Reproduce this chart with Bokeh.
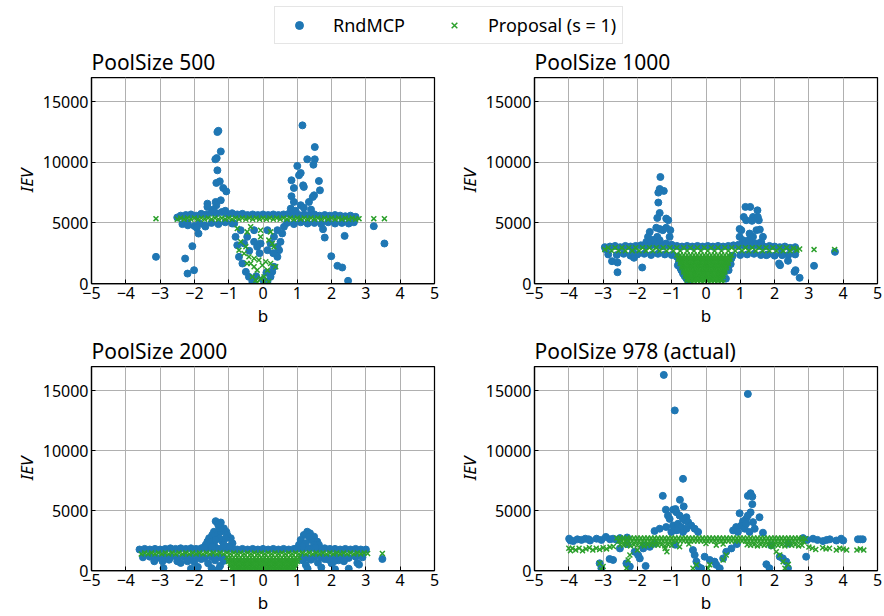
from bokeh.plotting import figure
from bokeh.layouts import column, row
from bokeh.models import Range1d, FixedTicker, Legend, LegendItem
from bokeh.core.properties import value
from bokeh.embed import file_html
from bokeh.resources import INLINE

FONT = "Noto Sans"
BLUE = "#1f77b4"
GREEN = "#2ca02c"

X_TICKS = [-5, -4, -3, -2, -1, 0, 1, 2, 3, 4, 5]
X_TICK_LABELS = ["\u22125", "\u22124", "\u22123", "\u22122", "\u22121", "0", "1", "2", "3", "4", "5"]
Y_TICKS = [0, 5000, 10000, 15000]
Y_TICK_LABELS = ["0", "5000", "10000", "15000"]
TITLES = ["PoolSize 500", "PoolSize 1000", "PoolSize 2000", "PoolSize 978 (actual)"]
SERIES = ["RndMCP", "Proposal (s = 1)"]

# ---------------- PoolSize 500 ----------------
P500_RND_BAND = [(-2.5,5450),(-2.4,5600),(-2.25,5650),(-2.1,5700),(-1.95,5600),(-1.8,5750),(-1.65,5700),(-1.5,5850),(-1.35,5800),(-1.2,5900),
    (-1.05,5750),(-0.9,5800),(-0.75,5700),(-0.6,5750),(-0.45,5650),(-0.3,5700),(-0.15,5650),(0.0,5700),(0.15,5650),(0.3,5700),
    (0.45,5650),(0.6,5700),(0.75,5750),(0.9,5700),(1.05,5650),(1.2,5700),(1.35,5650),(1.5,5700),(1.65,5600),(1.8,5650),
    (1.95,5600),(2.1,5650),(2.25,5600),(2.4,5550),(2.55,5600),(2.7,5500),
    (-2.35,4900),(-2.2,5000),(-2.0,4750),(-1.85,4950),(-1.7,4800),(-1.5,5000),(-1.3,4900),(-1.1,5050),(-0.9,4950),(0.7,5000),
    (0.9,4900),(1.1,5050),(1.3,4950),(1.5,5000),(1.7,4900),(1.9,5050),(2.1,4950),(2.3,5000),(2.5,4950),(2.65,5050)]
P500_RND_PEAKS = [(-1.62,6590),(-1.62,6320),(-1.33,12500),(-1.30,12600),(-1.23,10900),(-1.35,10350),(-1.39,10250),(-1.33,9340),
    (-1.36,8300),(-1.26,8430),(-1.16,7880),(-1.07,7600),(-1.38,6730),(-1.23,6870),(-1.36,6460),(-1.45,6100),(-1.10,6000),
    (1.15,13050),(1.51,11260),(1.29,10250),(1.51,10250),(1.47,9800),(1.00,9700),(1.05,8930),(1.10,9120),(0.83,8520),
    (0.90,7880),(1.17,8100),(1.19,7970),(1.63,8460),(1.66,7690),(1.49,7280),(1.45,7140),(0.83,7200),(0.90,6730),
    (1.34,6730),(1.10,6460),(1.19,6260),(0.81,6180),(0.95,6000),(1.40,6100)]
P500_RND_TAILS = [(-3.12,2200),(-2.27,2060),(-2.20,820),(-2.06,3080),(-2.01,1100),(-2.19,4800),(-1.88,4120),(-1.68,4700),
    (-1.93,4600),(1.75,4480),(1.80,3790),(2.38,3930),(1.99,2250),(2.17,1460),(2.31,1320),(2.48,220),(3.23,4730),(3.54,3300)]
P500_RND_DIP = [(-0.84,4950),(-0.80,3850),(-0.75,3160),(-0.70,2200),(-0.60,1650),(-0.50,960),(-0.41,550),(-0.31,140),
    (0.51,3440),(0.56,4130),(0.47,2750),(0.42,2200),(0.32,1380),(0.27,960),(0.22,550),(0.13,140),(-0.65,4400),(-0.26,4400),
    (0.13,4400),(0.42,4400),(-0.46,3850),(-0.07,3300),(0.32,3850),(0.61,4680),(-0.55,3300),(0.13,2750),(-0.17,3030),
    (-0.26,3440),(0.22,3300),(0.42,3030),(-0.10,2500),(-0.40,2700),(0.30,2500),(-0.20,600),(0.00,300),(0.10,900)]
P500_PROP_BAND = [(-2.5,5300),(-2.4,5400),(-2.3,5300),(-2.2,5400),(-2.1,5300),(-2.0,5400),(-1.9,5300),(-1.8,5400),(-1.7,5300),(-1.6,5400),
    (-1.5,5300),(-1.4,5400),(-1.3,5300),(-1.2,5400),(-1.1,5300),(-1.0,5400),(-0.9,5300),(-0.8,5400),(-0.7,5300),(-0.6,5400),
    (-0.5,5300),(-0.4,5400),(-0.3,5300),(-0.2,5400),(-0.1,5300),(0.0,5400),(0.1,5300),(0.2,5400),(0.3,5300),(0.4,5400),
    (0.5,5300),(0.6,5400),(0.7,5300),(0.8,5400),(0.9,5300),(1.0,5400),(1.1,5300),(1.2,5400),(1.3,5300),(1.4,5400),
    (1.5,5300),(1.6,5400),(1.7,5300),(1.8,5400),(1.9,5300),(2.0,5400),(2.1,5300),(2.2,5400),(2.3,5300),(2.4,5400),
    (2.5,5300),(2.6,5400),(2.7,5300),(2.8,5350),(-3.12,5350),(3.23,5350),(3.54,5350)]
P500_PROP_DIP = [(-0.75,4540),(-0.46,4260),(-0.07,4400),(0.22,4260),(-0.70,2750),(-0.55,2480),(-0.46,1650),(-0.36,1650),
    (-0.26,1380),(-0.17,1100),(-0.31,550),(-0.21,280),(-0.07,410),(0.03,550),(0.13,1100),(0.22,1650),(0.27,3300),
    (0.17,3580),(-0.65,3440),(-0.50,3030),(-0.41,2200),(-0.26,2060),(-0.12,1930),(-0.02,1510),(0.08,1790),(0.03,140),
    (-0.17,60),(0.17,140),(-0.07,3850),(-0.36,4680),(0.32,3030),(0.37,1380)]

# ---------------- PoolSize 1000 ----------------
P1000_RND_BAND = [(-2.95,3000),(-2.8,3050),(-2.65,3100),(-2.5,3000),(-2.35,3100),(-2.2,3050),(-2.05,3100),(-1.9,3150),(-1.75,3100),(-1.6,3150),
    (-1.45,3150),(-1.3,3100),(-1.15,3150),(-1.0,3100),(-0.85,3100),(-0.7,3050),(-0.55,3100),(-0.4,3050),(-0.25,3100),(-0.1,3050),
    (0.05,3100),(0.2,3050),(0.35,3100),(0.5,3050),(0.65,3100),(0.8,3150),(0.95,3100),(1.1,3150),(1.25,3100),(1.4,3150),
    (1.55,3100),(1.7,3050),(1.85,3100),(2.0,3050),(2.15,3000),(2.3,3050),(2.45,2950),(2.6,3000),
    (-2.85,2400),(-2.6,2350),(-2.4,2450),(-2.2,2300),(-2.0,2400),(-1.8,2450),(-1.6,2350),(-1.4,2450),(-1.2,2400),(-1.0,2350),
    (1.0,2350),(1.2,2400),(1.4,2450),(1.6,2350),(1.8,2400),(2.0,2300),(2.2,2450),(2.4,2350),(2.6,2400)]
P1000_RND_PEAKS = [(-1.33,8790),(-1.35,7800),(-1.23,7640),(-1.39,7500),(-1.39,6680),(-1.35,5820),(-1.42,5410),(-1.16,5360),
    (-1.10,5220),(-1.45,4600),(-1.35,4500),(-1.26,4400),(-1.16,4600),(-1.04,4400),(-1.64,4260),(-1.69,3850),(-1.74,3430),
    (-1.79,3160),(-1.42,3850),(-1.35,3570),(-1.06,3850),(-1.16,3300),(-1.45,3300),(-1.55,3600),(-1.25,3100),(-1.00,3200),
    (1.15,6320),(1.29,6320),(1.50,6040),(1.10,5490),(1.37,5490),(1.51,5490),(1.17,5220),(1.34,5170),(1.54,5220),
    (0.98,4500),(1.03,4400),(1.47,4400),(1.57,4450),(1.27,4120),(1.37,3850),(1.66,3850),(1.61,3430),(0.98,3850),
    (1.08,3570),(1.17,3430),(1.37,3300),(1.49,3300),(1.25,3600),(0.95,3200),(1.60,3200)]
P1000_RND_TAILS = [(-2.92,2830),(-2.74,1840),(-2.58,1730),(-2.58,930),(-2.10,2120),(-1.86,1320),(-2.13,2600),
    (1.76,2340),(2.13,1650),(2.16,1510),(2.39,1870),(2.22,2340),(2.58,960),(2.61,1100),(2.73,470),(3.15,1460),(3.76,2610),
    (-0.79,1790),(-0.72,1100),(-0.67,820),(-0.57,410),(-0.48,140),(0.45,550),(0.54,960),(0.64,1370),(0.69,1790),
    (0.74,2060),(-0.85,2200),(0.78,2300),(-0.82,1500),(-0.75,1300),(-0.62,600),(0.58,400),(0.66,1100),(0.72,1600)]
P1000_PROP_BAND = [(-2.95,2800),(-2.85,2950),(-2.75,2700),(-2.65,2950),(-2.55,2700),(-2.45,2950),(-2.35,2700),(-2.25,2950),(-2.15,2700),(-2.05,2950),
    (-1.95,2700),(-1.85,2950),(-1.75,2700),(-1.65,2950),(-1.55,2700),(-1.45,2950),(-1.35,2700),(-1.25,2950),(-1.15,2700),(-1.05,2950),
    (-0.95,2700),(-0.85,2950),(-0.75,2700),(-0.65,2950),(-0.55,2700),(-0.45,2950),(-0.35,2700),(-0.25,2950),(-0.15,2700),(-0.05,2950),
    (0.05,2700),(0.15,2950),(0.25,2700),(0.35,2950),(0.45,2700),(0.55,2950),(0.65,2700),(0.75,2950),(0.85,2700),(0.95,2950),
    (1.05,2700),(1.15,2950),(1.25,2700),(1.35,2950),(1.45,2700),(1.55,2950),(1.65,2700),(1.75,2950),(1.85,2700),(1.95,2950),
    (2.05,2700),(2.15,2950),(2.25,2700),(2.35,2950),(2.45,2700),(2.55,2900),(2.65,2750),(2.73,2850),(3.15,2800),(3.75,2800)]
P1000_PROP_DIP = [
    (-0.85,2350),(-0.75,2350),(-0.65,2350),(-0.55,2350),(-0.45,2350),(-0.35,2350),(-0.25,2350),(-0.15,2350),(-0.05,2350),
    (0.05,2350),(0.15,2350),(0.25,2350),(0.35,2350),(0.45,2350),(0.55,2350),(0.65,2350),(0.75,2350),
    (-0.8,2150),(-0.7,2150),(-0.6,2150),(-0.5,2150),(-0.4,2150),(-0.3,2150),(-0.2,2150),(-0.1,2150),(0.0,2150),
    (0.1,2150),(0.2,2150),(0.3,2150),(0.4,2150),(0.5,2150),(0.6,2150),(0.7,2150),
    (-0.8,2000),(-0.7,2000),(-0.6,2000),(-0.5,2000),(-0.4,2000),(-0.3,2000),(-0.2,2000),(-0.1,2000),(0.0,2000),
    (0.1,2000),(0.2,2000),(0.3,2000),(0.4,2000),(0.5,2000),(0.6,2000),(0.7,2000),
    (-0.75,1800),(-0.65,1800),(-0.55,1800),(-0.45,1800),(-0.35,1800),(-0.25,1800),(-0.15,1800),(-0.05,1800),
    (0.05,1800),(0.15,1800),(0.25,1800),(0.35,1800),(0.45,1800),(0.55,1800),(0.65,1800),
    (-0.75,1650),(-0.65,1650),(-0.55,1650),(-0.45,1650),(-0.35,1650),(-0.25,1650),(-0.15,1650),(-0.05,1650),
    (0.05,1650),(0.15,1650),(0.25,1650),(0.35,1650),(0.45,1650),(0.55,1650),(0.65,1650),
    (-0.7,1450),(-0.6,1450),(-0.5,1450),(-0.4,1450),(-0.3,1450),(-0.2,1450),(-0.1,1450),(0.0,1450),
    (0.1,1450),(0.2,1450),(0.3,1450),(0.4,1450),(0.5,1450),(0.6,1450),
    (-0.7,1300),(-0.6,1300),(-0.5,1300),(-0.4,1300),(-0.3,1300),(-0.2,1300),(-0.1,1300),(0.0,1300),
    (0.1,1300),(0.2,1300),(0.3,1300),(0.4,1300),(0.5,1300),(0.6,1300),
    (-0.65,1100),(-0.55,1100),(-0.45,1100),(-0.35,1100),(-0.25,1100),(-0.15,1100),(-0.05,1100),
    (0.05,1100),(0.15,1100),(0.25,1100),(0.35,1100),(0.45,1100),(0.55,1100),
    (-0.65,950),(-0.55,950),(-0.45,950),(-0.35,950),(-0.25,950),(-0.15,950),(-0.05,950),
    (0.05,950),(0.15,950),(0.25,950),(0.35,950),(0.45,950),(0.55,950),
    (-0.6,750),(-0.5,750),(-0.4,750),(-0.3,750),(-0.2,750),(-0.1,750),(0.0,750),(0.1,750),(0.2,750),(0.3,750),(0.4,750),(0.5,750),
    (-0.6,600),(-0.5,600),(-0.4,600),(-0.3,600),(-0.2,600),(-0.1,600),(0.0,600),(0.1,600),(0.2,600),(0.3,600),(0.4,600),(0.5,600),
    (-0.55,400),(-0.45,400),(-0.35,400),(-0.25,400),(-0.15,400),(-0.05,400),(0.05,400),(0.15,400),(0.25,400),(0.35,400),(0.45,400),
    (-0.55,250),(-0.45,250),(-0.35,250),(-0.25,250),(-0.15,250),(-0.05,250),(0.05,250),(0.15,250),(0.25,250),(0.35,250),(0.45,250),
    (-0.5,60),(-0.4,60),(-0.3,60),(-0.2,60),(-0.1,60),(0.0,60),(0.1,60),(0.2,60),(0.3,60),(0.4,60),(0.5,60)]

# ---------------- PoolSize 2000 ----------------
P2000_RND_BAND = [(-3.6,1750),(-3.45,1800),(-3.3,1750),(-3.15,1800),(-3.0,1750),(-2.85,1800),(-2.7,1850),(-2.55,1800),(-2.4,1850),(-2.25,1800),
    (-2.1,1850),(-1.95,1800),(-1.8,1850),(-1.65,1850),(-1.5,1850),(-1.35,1850),(-1.2,1850),(-1.05,1800),(-0.9,1800),(-0.75,1750),
    (-0.6,1800),(-0.45,1750),(-0.3,1800),(-0.15,1750),(0.0,1800),(0.15,1750),(0.3,1800),(0.45,1750),(0.6,1800),(0.75,1750),
    (0.9,1800),(1.05,1850),(1.2,1850),(1.35,1850),(1.5,1850),(1.65,1800),(1.8,1850),(1.95,1800),(2.1,1800),(2.25,1750),
    (2.4,1800),(2.55,1750),(2.7,1800),(2.85,1750),(3.0,1750),
    (-3.5,1100),(-3.3,1150),(-3.1,1050),(-2.9,1150),(-2.7,1100),(-2.5,1050),(-2.3,1150),(-2.1,1100),(-1.9,1150),(-1.7,1050),
    (-1.5,1150),(-1.3,1100),(-1.15,1050),(1.15,1100),(1.3,1050),(1.5,1150),(1.7,1100),(1.9,1050),(2.1,1150),(2.3,1100),
    (2.5,1050),(2.7,1150),(2.9,1100)]
P2000_RND_PEAKS = [(-1.38,4110),(-1.23,4000),(-1.28,3640),(-1.14,3510),(-1.07,3230),(-1.43,3230),(-1.48,2960),(-1.57,2690),
    (-1.62,2410),(-1.33,2960),(-1.23,3230),(-1.04,2960),(-0.94,2690),(-0.89,2270),(-1.67,2140),(-1.72,1920),(-1.52,2410),
    (-1.18,2410),(-0.99,2000),(-1.43,2140),(-1.28,2690),(-1.14,2140),(-1.38,2550),(-1.09,2690),(-1.48,2000),(-1.25,3500),
    (-1.31,3840),
    (1.29,3230),(1.37,3100),(1.19,2960),(1.49,2820),(1.10,2550),(1.58,2410),(1.05,2140),(1.63,2140),(1.39,2550),
    (1.24,2270),(1.49,2140),(1.34,2820),(1.15,2000),(1.53,1920),(1.00,1860)]
P2000_RND_TAILS = [(-2.2,900),(-2.0,700),(-1.8,950),(-1.6,600),(-1.4,850),(-1.25,400),(-1.15,800),(-1.9,300),(-1.5,200),
    (-1.3,100),(-2.1,150),(1.15,850),(1.25,450),(1.4,900),(1.6,650),(1.8,950),(2.0,600),(2.2,850),(1.3,150),(1.7,250),
    (2.1,100),(-3.17,770),(-2.93,770),(-2.74,900),(-2.50,770),(-2.40,630),(-2.20,770),(1.92,900),(2.07,770),(2.36,770),
    (2.75,630),(2.80,490),(3.48,960),(-2.9,200),(2.5,150)]
P2000_PROP_BAND = [(-3.55,1380),(-3.45,1470),(-3.35,1380),(-3.25,1470),(-3.15,1380),(-3.05,1470),(-2.95,1380),(-2.85,1470),(-2.75,1380),(-2.65,1470),
    (-2.55,1380),(-2.45,1470),(-2.35,1380),(-2.25,1470),(-2.15,1380),(-2.05,1470),(-1.95,1380),(-1.85,1470),(-1.75,1380),(-1.65,1470),
    (-1.55,1380),(-1.45,1470),(-1.35,1380),(-1.25,1470),(-1.15,1380),(-1.05,1470),(-0.95,1380),(-0.85,1470),(-0.75,1380),(-0.65,1470),
    (-0.55,1380),(-0.45,1470),(-0.35,1380),(-0.25,1470),(-0.15,1380),(-0.05,1470),(0.05,1380),(0.15,1470),(0.25,1380),(0.35,1470),
    (0.45,1380),(0.55,1470),(0.65,1380),(0.75,1470),(0.85,1380),(0.95,1470),(1.05,1380),(1.15,1470),(1.25,1380),(1.35,1470),
    (1.45,1380),(1.55,1470),(1.65,1380),(1.75,1470),(1.85,1380),(1.95,1470),(2.05,1380),(2.15,1470),(2.25,1380),(2.35,1470),
    (2.45,1380),(2.55,1470),(2.65,1380),(2.75,1470),(2.85,1380),(2.95,1470),(3.05,1420),(3.48,1420)]
P2000_PROP_DIP = [
    (-1.05,1100),(-0.95,1100),(-0.85,1100),(-0.75,1100),(-0.65,1100),(-0.55,1100),(-0.45,1100),(-0.35,1100),(-0.25,1100),(-0.15,1100),(-0.05,1100),
    (0.05,1100),(0.15,1100),(0.25,1100),(0.35,1100),(0.45,1100),(0.55,1100),(0.65,1100),(0.75,1100),(0.85,1100),(0.95,1100),(1.05,1100),
    (-1.0,925),(-0.9,925),(-0.8,925),(-0.7,925),(-0.6,925),(-0.5,925),(-0.4,925),(-0.3,925),(-0.2,925),(-0.1,925),(0.0,925),
    (0.1,925),(0.2,925),(0.3,925),(0.4,925),(0.5,925),(0.6,925),(0.7,925),(0.8,925),(0.9,925),(1.0,925),
    (-1.0,750),(-0.9,750),(-0.8,750),(-0.7,750),(-0.6,750),(-0.5,750),(-0.4,750),(-0.3,750),(-0.2,750),(-0.1,750),(0.0,750),
    (0.1,750),(0.2,750),(0.3,750),(0.4,750),(0.5,750),(0.6,750),(0.7,750),(0.8,750),(0.9,750),(1.0,750),
    (-0.95,575),(-0.85,575),(-0.75,575),(-0.65,575),(-0.55,575),(-0.45,575),(-0.35,575),(-0.25,575),(-0.15,575),(-0.05,575),
    (0.05,575),(0.15,575),(0.25,575),(0.35,575),(0.45,575),(0.55,575),(0.65,575),(0.75,575),(0.85,575),(0.95,575),
    (-0.95,400),(-0.85,400),(-0.75,400),(-0.65,400),(-0.55,400),(-0.45,400),(-0.35,400),(-0.25,400),(-0.15,400),(-0.05,400),
    (0.05,400),(0.15,400),(0.25,400),(0.35,400),(0.45,400),(0.55,400),(0.65,400),(0.75,400),(0.85,400),(0.95,400),
    (-0.9,240),(-0.8,240),(-0.7,240),(-0.6,240),(-0.5,240),(-0.4,240),(-0.3,240),(-0.2,240),(-0.1,240),(0.0,240),
    (0.1,240),(0.2,240),(0.3,240),(0.4,240),(0.5,240),(0.6,240),(0.7,240),(0.8,240),(0.9,240),
    (-0.9,80),(-0.8,80),(-0.7,80),(-0.6,80),(-0.5,80),(-0.4,80),(-0.3,80),(-0.2,80),(-0.1,80),(0.0,80),
    (0.1,80),(0.2,80),(0.3,80),(0.4,80),(0.5,80),(0.6,80),(0.7,80),(0.8,80),(0.9,80)]

# ---------------- PoolSize 978 (actual) ----------------
P978_RND_BAND = [(-3.99,2650),(-3.95,2500),(-3.87,2450),(-3.75,2600),(-3.63,2550),(-3.52,2650),(-3.42,2600),(-3.38,2500),(-3.19,2650),
    (-3.05,2550),(-2.92,2800),(-2.80,2600),(-2.71,2650),(-2.60,2550),(-2.51,2700),(-2.30,2750),(2.83,2700),(2.95,2550),
    (3.12,2650),(3.25,2550),(3.41,2450),(3.52,2550),(3.61,2600),(3.80,2500),(3.94,2650),(4.00,2500),(4.43,2600),(4.50,2600),
    (4.57,2600),(-2.3,2200),(-1.8,2100),(-1.5,2250),(-0.9,2150),(0.9,2200),(1.9,2100),(2.4,2250)]
P978_RND_PEAKS = [(-1.23,16300),(-0.91,13340),(1.22,14710),(-0.67,7640),(-1.26,6220),(-0.76,5890),(-0.65,5340),(-1.17,5070),
    (-0.96,5070),(-0.89,5120),(-0.57,4440),(-0.60,4160),(-1.11,4580),(-1.06,4300),(-0.86,4850),(-0.77,4580),(-0.67,4300),
    (-0.52,4030),(-0.43,3750),(-0.33,3480),(-0.23,3210),(-1.50,3290),(-1.35,3480),(-1.16,3620),(-0.96,3750),(-0.82,3890),
    (-0.72,3620),(-0.86,3340),(-1.01,3210),(-0.67,3210),(-0.57,3480),
    (1.22,6220),(1.30,6440),(1.35,6160),(1.35,5530),(0.98,4770),(1.30,4850),(1.56,4440),(1.17,4300),(1.08,4110),
    (0.88,3620),(1.03,3750),(1.13,3480),(1.42,3480),(1.66,3150),(0.93,3210),(1.27,3210),(0.79,3340),(1.17,3890),
    (1.37,4030),(1.22,4580)]
P978_RND_TAILS = [(-3.10,600),(-3.05,190),(-2.81,960),(-2.71,880),(-2.32,600),(-2.22,330),(-1.98,1290),(-1.93,1010),
    (-1.76,380),(-2.08,1560),(-1.83,1840),(-0.33,1290),(-0.28,740),(-0.23,330),(-0.14,190),(-0.04,1150),(0.11,880),
    (0.25,740),(0.30,470),(0.40,190),(0.50,1010),(0.59,1560),(1.76,520),(1.85,190),(2.15,1150),(2.24,1010),(2.34,740),
    (2.39,190),(2.92,1150),(0.74,1840),(-0.38,1700),(-2.51,1840),(-1.64,1970)]
P978_PROP_BAND = [
    (-2.6,2700),(-2.5,2700),(-2.4,2700),(-2.3,2700),(-2.2,2700),(-2.1,2700),(-2.0,2700),(-1.9,2700),(-1.8,2700),(-1.7,2700),
    (-1.6,2700),(-1.5,2700),(-1.4,2700),(-1.3,2700),(-1.2,2700),(-1.1,2700),(-1.0,2700),(-0.9,2700),(-0.8,2700),(-0.7,2700),
    (-0.6,2700),(-0.5,2700),(-0.4,2700),(-0.3,2700),(-0.2,2700),(-0.1,2700),(0.0,2700),(0.1,2700),(0.2,2700),(0.3,2700),
    (0.4,2700),(0.5,2700),(0.6,2700),(0.7,2700),(0.8,2700),(0.9,2700),(1.0,2700),(1.1,2700),(1.2,2700),(1.3,2700),
    (1.4,2700),(1.5,2700),(1.6,2700),(1.7,2700),(1.8,2700),(1.9,2700),(2.0,2700),(2.1,2700),(2.2,2700),(2.3,2700),
    (2.4,2700),(2.5,2700),(2.6,2700),(2.7,2700),(2.8,2700),(2.9,2650),
    (-2.55,2450),(-2.45,2450),(-2.35,2450),(-2.25,2450),(-2.15,2450),(-2.05,2450),(-1.95,2450),(-1.85,2450),(-1.75,2450),(-1.65,2450),
    (-1.55,2450),(-1.45,2450),(-1.35,2450),(-1.25,2450),(-1.15,2450),(-1.05,2450),(-0.95,2450),(-0.85,2450),(-0.75,2450),(-0.65,2450),
    (-0.55,2450),(-0.45,2450),(-0.35,2450),(-0.25,2450),(-0.15,2450),(-0.05,2450),(0.05,2450),(0.15,2450),(0.25,2450),(0.35,2450),
    (0.45,2450),(0.55,2450),(0.65,2450),(0.75,2450),(0.85,2450),(0.95,2450),(1.05,2450),(1.15,2450),(1.25,2450),(1.35,2450),
    (1.45,2450),(1.55,2450),(1.65,2450),(1.75,2450),(1.85,2450),(1.95,2450),(2.05,2450),(2.15,2450),(2.25,2450),(2.35,2450),
    (2.45,2450),(2.55,2450),(2.65,2450),(2.75,2450),(2.85,2400),
    (-2.5,2150),(-2.4,2100),(-2.3,2150),(-2.2,2050),(-2.1,2150),(-2.0,2100),(-1.9,2150),(-1.8,2050),(-1.7,2150),(-1.6,2100),
    (-1.5,2150),(-1.4,2100),(-1.3,2150),(-1.2,2050),(-1.1,2150),(-1.0,2100),(-0.5,2200),(0.0,2250),(0.5,2200),
    (1.2,2150),(1.3,2100),(1.4,2150),(1.5,2050),(1.6,2150),(1.7,2100),(1.8,2150),(1.9,2050),(2.0,2150),(2.1,2100),
    (2.2,2150),(2.3,2050),(2.4,2150),(2.5,2100),(2.6,2150),(2.7,2050),(2.8,2100),
    (-4.0,1850),(-3.95,1650),(-3.9,1850),(-3.8,1700),(-3.7,1850),(-3.6,1650),(-3.5,1800),(-3.4,1900),(-3.3,1700),(-3.2,1850),
    (-3.1,1750),(-3.0,1900),(-2.9,1800),(-2.8,1950),(-2.7,2000),
    (3.0,1950),(3.1,1850),(3.2,1750),(3.4,1900),(3.5,1800),(3.6,1850),(3.8,1700),(3.9,1850),(4.0,1800),(4.1,1700),
    (4.4,1700),(4.5,1800),(4.6,1700)]
P978_PROP_TAILS = [(-3.10,600),(-3.00,330),(-3.05,50),(-2.32,190),(-2.22,1290),(-2.27,880),(-1.14,1560),(-1.19,1840),
    (-0.38,190),(-0.28,470),(0.06,190),(0.11,470),(0.50,880),(0.59,1290),(2.25,740),(2.30,190),(2.15,1290),(1.95,1970),
    (2.05,1560),(-0.77,1970),(0.30,2110),(-2.00,1700),(2.40,500)]


def unzip(*groups):
    pts = [pt for g in groups for pt in g]
    return [p[0] for p in pts], [p[1] for p in pts]


PANELS = [
    (unzip(P500_RND_BAND, P500_RND_PEAKS, P500_RND_TAILS, P500_RND_DIP), unzip(P500_PROP_BAND, P500_PROP_DIP)),
    (unzip(P1000_RND_BAND, P1000_RND_PEAKS, P1000_RND_TAILS), unzip(P1000_PROP_BAND, P1000_PROP_DIP)),
    (unzip(P2000_RND_BAND, P2000_RND_PEAKS, P2000_RND_TAILS), unzip(P2000_PROP_BAND, P2000_PROP_DIP)),
    (unzip(P978_RND_BAND, P978_RND_PEAKS, P978_RND_TAILS), unzip(P978_PROP_BAND, P978_PROP_TAILS)),
]


def make_panel(rnd, prop, width, height, bl, br, bt, bb):
    p = figure(width=width, height=height, x_range=Range1d(-5, 5), y_range=Range1d(0, 17000),
               output_backend="svg", toolbar_location=None,
               min_border_left=bl, min_border_right=br, min_border_top=bt, min_border_bottom=bb)
    p.scatter(rnd[0], rnd[1], marker="circle", size=7, fill_color=BLUE, line_color=BLUE)
    p.scatter(prop[0], prop[1], marker="x", size=7, line_color=GREEN, line_width=1.5)
    xa = p.xaxis[0]
    ya = p.yaxis[0]
    xa.ticker = FixedTicker(ticks=X_TICKS)
    xa.major_label_overrides = {t: s for t, s in zip(X_TICKS, X_TICK_LABELS)}
    ya.ticker = FixedTicker(ticks=Y_TICKS)
    ya.major_label_overrides = {t: s for t, s in zip(Y_TICKS, Y_TICK_LABELS)}
    for ax in (xa, ya):
        ax.major_label_text_font = FONT
        ax.major_label_text_font_size = "16px"
        ax.major_label_text_color = "black"
        ax.major_tick_in = 4
        ax.major_tick_out = 0
        ax.minor_tick_in = 0
        ax.minor_tick_out = 0
        ax.major_tick_line_color = "black"
        ax.axis_line_color = "black"
        ax.axis_line_width = 1.25
        ax.major_label_standoff = 3
        ax.axis_label_standoff = 2
        ax.axis_label_text_font = FONT
        ax.axis_label_text_font_size = "17px"
        ax.axis_label_text_color = "black"
    xa.axis_label = "b"
    xa.axis_label_text_font_style = "normal"
    ya.axis_label = "IEV"
    ya.axis_label_text_font_style = "italic"
    p.grid.grid_line_color = "#b0b0b0"
    p.grid.grid_line_width = 1
    p.outline_line_color = "black"
    p.outline_line_width = 1.25
    p.outline_line_alpha = 1
    return p


def make_strip(height, titles):
    s = figure(width=884, height=height, x_range=Range1d(0, 884), y_range=Range1d(0, height),
               output_backend="svg", toolbar_location=None, x_axis_location=None, y_axis_location=None,
               min_border=0)
    s.grid.visible = False
    s.outline_line_color = None
    # panel titles, left-aligned with each frame's left edge, just above the frame
    s.text(x=[91, 534], y=[15, 15], text=titles, text_font=value(FONT), text_font_size="21px",
           text_color="black", text_align="left", text_baseline="alphabetic")
    return s


# frames: columns at x 91-434 and 534-877; rows at y 77-283 and 366-570
top = make_strip(76, TITLES[0:2])
r1 = top.scatter([-50], [-50], marker="circle", size=7, fill_color=BLUE, line_color=BLUE)
r2 = top.scatter([-50], [-50], marker="x", size=7, line_color=GREEN, line_width=1.5)
legend = Legend(items=[LegendItem(label=SERIES[0], renderers=[r1]), LegendItem(label=SERIES[1], renderers=[r2])],
                orientation="horizontal", location=(274, 32), margin=0, padding=6,
                glyph_width=36, glyph_height=20, label_standoff=16, spacing=31,
                label_text_font=FONT, label_text_font_size="18px", label_text_color="black",
                border_line_color="#cccccc", border_line_width=1, background_fill_color="white",
                background_fill_alpha=1)
top.add_layout(legend, "center")

p1 = make_panel(*PANELS[0], 443, 253, 91, 9, 1, 46)
p2 = make_panel(*PANELS[1], 441, 253, 91, 7, 1, 46)
mid = make_strip(36, TITLES[2:4])
p3 = make_panel(*PANELS[2], 443, 251, 91, 9, 1, 46)
p4 = make_panel(*PANELS[3], 441, 251, 91, 7, 1, 46)

layout = column(top, row(p1, p2, spacing=0), mid, row(p3, p4, spacing=0), spacing=0)
open("out.html", "w").write(file_html(layout, INLINE))
